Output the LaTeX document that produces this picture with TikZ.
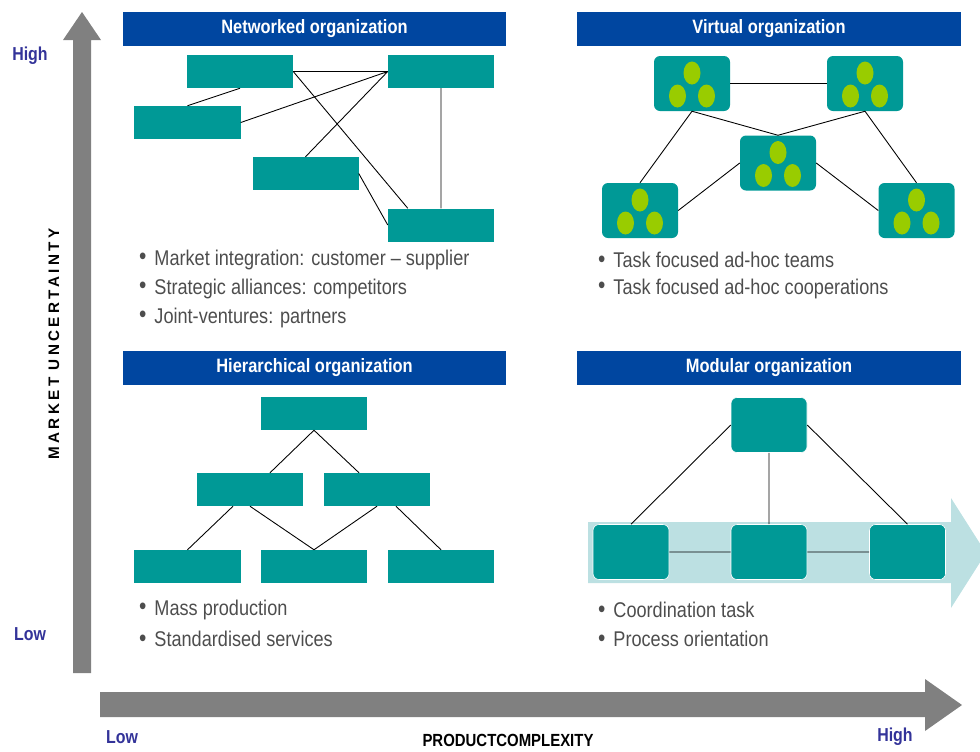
\documentclass[tikz,border=0pt]{standalone}
\usepackage{fontspec}
\setmainfont{Liberation Sans}[FakeStretch=0.85]
\newfontfamily\axisfont{Liberation Sans}[LetterSpace=22]
\usetikzlibrary{calc}
\definecolor{hdrblue}{RGB}{0,70,160}
\definecolor{orgteal}{RGB}{0,153,150}
\definecolor{leafgreen}{RGB}{153,204,0}
\definecolor{bandcyan}{RGB}{188,224,226}
\definecolor{axisgray}{RGB}{128,128,128}
\definecolor{lblblue}{RGB}{51,51,153}
\definecolor{txtgray}{RGB}{77,77,77}
\newcommand\bul{\makebox[13pt][l]{\raisebox{0.5pt}{\fontsize{21}{20}\selectfont\textbullet}}}
\tikzset{
         header/.style={fill=hdrblue,text=white,inner sep=0pt,
                        minimum width=11.49cm,minimum height=1.02cm,
                        font=\bfseries\fontsize{16.5}{18}\selectfont},
         orgbox/.style={fill=orgteal,inner sep=0pt,minimum width=3.18cm,minimum height=0.99cm},
         teambox/.style={fill=orgteal,rounded corners=0.18cm,inner sep=0pt,
                         minimum width=2.28cm,minimum height=1.65cm},
         modbox/.style={teambox,draw=white,line width=0.5pt},
         link/.style={line width=0.75pt,black},
         bullet/.style={anchor=west,inner sep=0pt,text=txtgray,font=\fontsize{18.2}{20}\selectfont},
         endlbl/.style={text=lblblue,font=\bfseries\fontsize{16}{18}\selectfont}
        }
\begin{document}
\begin{tikzpicture}[x=0.03cm,y=-0.03cm]
\clip (0,0) rectangle (980,751); % page
\fill[axisgray] (73,673)--(73,40)--(63,40)--(82,12)--(101,40)--(91,40)--(91,673)--cycle; % vertical axis
\fill[axisgray] (100,692)--(925,692)--(925,679)--(962,705)--(925,731)--(925,717)--(100,717)--cycle; % horizontal axis
\fill[bandcyan] (588,522)--(951,522)--(951,498)--(986,553)--(951,608)--(951,583)--(588,583)--cycle; % process band
% headers
\node[header] (hnet) at (314.5,29) {Networked organization};
\node[header] (hvir) at (769,29) {Virtual organization};
\node[header] (hhie) at (314.5,368) {Hierarchical organization};
\node[header] (hmod) at (769,368) {Modular organization};
% networked organization
\node[orgbox] (na) at (240,71.5) {};
\node[orgbox] (nb) at (441,71.5) {};
\node[orgbox] (nc) at (187.5,122.5) {};
\node[orgbox] (nd) at (305.5,173.5) {};
\node[orgbox] (ne) at (441,225) {};
\draw[link] (na.east)--(nb.west) (na.south)--(nc.north) (nc.east)--(nb.west) (nd.north)--(nb.west);
\draw[link] (na.east)--($(ne.north west)+(20,0)$) (nd.east)--(ne.west) (nb.south)--(ne.north);
% virtual organization
\node[teambox] (v1) at (692,83.5) {};
\node[teambox] (v2) at (865,83.5) {};
\node[teambox] (v3) at (778,163) {};
\node[teambox] (v4) at (640,210.5) {};
\node[teambox] (v5) at (916.5,210.5) {};
\foreach \t in {v1,v2,v3,v4,v5}
 {
  \fill[leafgreen] ($(\t)+(0,-10.5)$) ellipse [x radius=0.255cm,y radius=0.345cm];
  \fill[leafgreen] ($(\t)+(-14.5,12.5)$) ellipse [x radius=0.255cm,y radius=0.345cm];
  \fill[leafgreen] ($(\t)+(14.5,12.5)$) ellipse [x radius=0.255cm,y radius=0.345cm];
 }
\draw[link] (v1.east)--(v2.west) (v1.south)--(v3.north) (v2.south)--(v3.north);
\draw[link] (v1.south)--(v4.north) (v2.south)--(v5.north) (v4.east)--(v3.west) (v3.east)--(v5.west);
% hierarchical organization
\node[orgbox] (h1) at (314,413.5) {};
\node[orgbox] (h2) at (250,489.5) {};
\node[orgbox] (h3) at (377,489.5) {};
\node[orgbox] (h4) at (187.5,566.5) {};
\node[orgbox] (h5) at (314,566.5) {};
\node[orgbox] (h6) at (441,566.5) {};
\draw[link] (h1.south)--($(h2.north)+(20,0)$) (h1.south)--($(h3.north)+(-18,0)$);
\draw[link] ($(h2.south)+(-17,0)$)--(h4.north) (h2.south)--(h5.north) (h3.south)--(h5.north) ($(h3.south)+(19,0)$)--(h6.north);
% modular organization
\node[modbox] (m1) at (769,425) {};
\node[modbox] (m2) at (631,552) {};
\node[modbox] (m3) at (769,552) {};
\node[modbox] (m4) at (907.5,552) {};
\draw[link] (m1.west)--(m2.north) (m1.south)--(m3.north) (m1.east)--(m4.north) (m2.east)--(m3.west) (m3.east)--(m4.west);
% bullet texts
\node[bullet] (nt1) at (139,260) {\bul Market integration: customer -- supplier};
\node[bullet] (nt2) at (139,289) {\bul Strategic alliances: competitors};
\node[bullet] (nt3) at (139,318) {\bul Joint-ventures: partners};
\node[bullet] (vt1) at (598,260) {\bul Task focused ad-hoc teams};
\node[bullet] (vt2) at (598,289) {\bul Task focused ad-hoc cooperations};
\node[bullet] (ht1) at (139,610) {\bul Mass production};
\node[bullet] (ht2) at (139,639) {\bul Standardised services};
\node[bullet] (mt1) at (598,610) {\bul Coordination task};
\node[bullet] (mt2) at (598,639) {\bul Process orientation};
% axis labels
\node[endlbl] (yhigh) at (30,56) {High};
\node[endlbl] (ylow) at (30,634) {Low};
\node[endlbl] (xlow) at (122,737) {Low};
\node[endlbl] (xhigh) at (895,737) {High};
\node[font=\bfseries\fontsize{15}{16}\selectfont] (xname) at (508,740) {PRODUCTCOMPLEXITY};
\node[rotate=90,font=\axisfont\bfseries\fontsize{13}{14}\selectfont] (yname) at (54,344) {MARKET UNCERTAINTY};
\end{tikzpicture}
\end{document}
